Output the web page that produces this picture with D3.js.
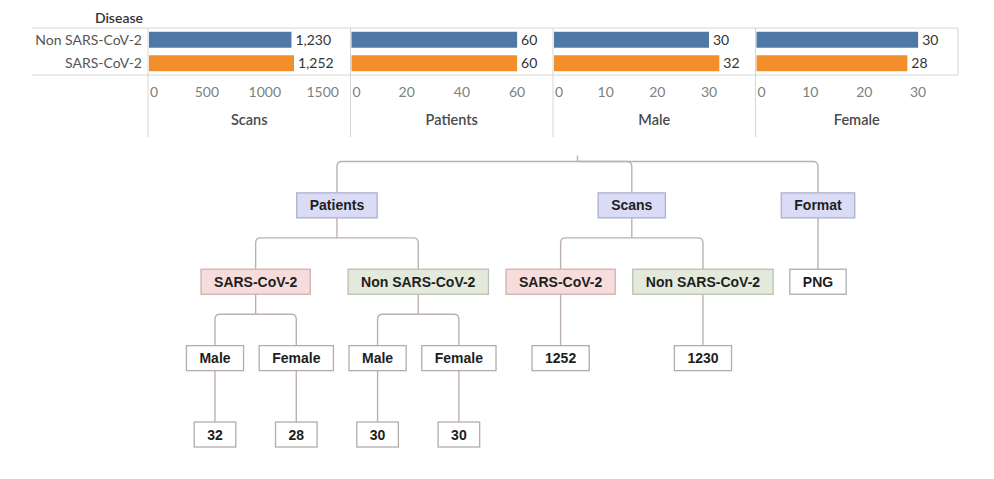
<!DOCTYPE html>
<html><head><meta charset="utf-8">
<script src="https://cdn.jsdelivr.net/npm/d3@7"></script>
<style>
html,body{margin:0;padding:0;background:#fff;}
svg{display:block;}
</style></head>
<body>
<svg id="chart" width="994" height="479"></svg>
<script>
// ---------- data ----------
const diseases = ["Non SARS-CoV-2", "SARS-CoV-2"];
const measures = ["Scans", "Patients", "Male", "Female"];
const scansValues = [1230, 1252];
const patientsValues = [60, 60];
const maleValues = [30, 32];
const femaleValues = [30, 28];
const axisMax = [1740, 73, 39, 37.4];
const tickValues = [[0, 500, 1000, 1500], [0, 20, 40, 60], [0, 10, 20, 30], [0, 10, 20, 30]];
const treeCategories = ["Patients", "Scans", "Format"];
const treeGroups = ["SARS-CoV-2", "Non SARS-CoV-2"];
const genders = ["Male", "Female"];
const formats = ["PNG"];

// ---------- styles ----------
const diseaseColors = ["#4e79a7", "#f28e2b"];
const gridColor = "#d6d6d6";
const uiFont = "Lato, 'Open Sans', sans-serif";
const treeFont = "'Liberation Sans', Arial, sans-serif";

const svg = d3.select("#chart");
const seriesByMeasure = [scansValues, patientsValues, maleValues, femaleValues];

// ---------- bar chart (top) ----------
const panel = d3.scaleBand().domain(measures).range([148, 958]);
const row = d3.scaleBand().domain(diseases).range([28, 75]).paddingInner(0.32).paddingOuter(0.16);
const color = d3.scaleOrdinal().domain(diseases).range(diseaseColors);
const barG = svg.append("g");

barG.append("text").attr("x", 143).attr("y", 18).attr("dy", "0.35em")
  .attr("text-anchor", "end").attr("font-family", uiFont).attr("font-size", 14)
  .attr("font-weight", 600).attr("fill", "#333").text("Disease");

barG.selectAll("text.rowlab").data(diseases).join("text").attr("class", "rowlab")
  .attr("x", 142).attr("y", d => row(d) + row.bandwidth() / 2).attr("dy", "0.35em")
  .attr("text-anchor", "end").attr("font-family", uiFont).attr("font-size", 14)
  .attr("fill", "#555").text(d => d);

// grid lines
const [r0, r1] = row.range();
barG.append("line").attr("x1", 32).attr("x2", 958).attr("y1", r0).attr("y2", r0).attr("stroke", gridColor);
barG.append("line").attr("x1", 32).attr("x2", 958).attr("y1", r1).attr("y2", r1).attr("stroke", gridColor);
barG.selectAll("line.sep").data(measures).join("line").attr("class", "sep")
  .attr("x1", d => panel(d)).attr("x2", d => panel(d)).attr("y1", r0).attr("y2", 137).attr("stroke", gridColor);
barG.append("line").attr("x1", 958).attr("x2", 958).attr("y1", r0).attr("y2", r1).attr("stroke", gridColor);

measures.forEach((m, i) => {
  const x0 = panel(m);
  const x = d3.scaleLinear().domain([0, axisMax[i]]).range([x0 + 1, x0 + panel.bandwidth()]);
  const vals = seriesByMeasure[i];
  const g = barG.append("g");
  g.selectAll("rect").data(diseases).join("rect")
    .attr("x", x(0)).attr("y", d => row(d))
    .attr("width", (d, j) => x(vals[j]) - x(0)).attr("height", row.bandwidth())
    .attr("fill", d => color(d));
  g.selectAll("text.val").data(diseases).join("text").attr("class", "val")
    .attr("x", (d, j) => x(vals[j]) + 4).attr("y", d => row(d) + row.bandwidth() / 2).attr("dy", "0.35em")
    .attr("font-family", uiFont).attr("font-size", 14).attr("fill", "#333")
    .text((d, j) => d3.format(",")(vals[j]));
  g.selectAll("text.tick").data(tickValues[i]).join("text").attr("class", "tick")
    .attr("x", t => t === 0 ? x(t) + 1 : x(t)).attr("y", 92).attr("dy", "0.35em")
    .attr("text-anchor", t => t === 0 ? "start" : "middle")
    .attr("font-family", uiFont).attr("font-size", 14).attr("fill", "#808080").text(t => t);
  g.append("text").attr("x", x0 + panel.bandwidth() / 2).attr("y", 120).attr("dy", "0.35em")
    .attr("text-anchor", "middle").attr("font-family", uiFont).attr("font-size", 14.5)
    .attr("font-weight", 600).attr("fill", "#4a4a4a").text(m);
});

// ---------- tree (bottom) ----------
const val = (arr, g) => arr[diseases.indexOf(g)];
const treeData = { name: "", children: [
  { name: treeCategories[0], children: treeGroups.map(g => ({ name: g,
      children: genders.map(s => ({ name: s, children: [{ name: String(val(s === genders[0] ? maleValues : femaleValues, g)) }] })) })) },
  { name: treeCategories[1], children: treeGroups.map(g => ({ name: g, children: [{ name: String(val(scansValues, g)) }] })) },
  { name: treeCategories[2], children: formats.map(f => ({ name: f })) }
]};

const root = d3.hierarchy(treeData);
const meas = svg.append("text").attr("font-family", treeFont).attr("font-weight", "bold").attr("font-size", 14);
root.each(d => { meas.text(d.data.name); d.w = d.depth ? meas.node().getComputedTextLength() + 26 : 0; });
meas.remove();
const gap = 13;
d3.tree().nodeSize([1, 1]).separation((a, b) => (a.w + b.w) / 2 + gap)(root);

const visible = root.descendants().filter(d => d.depth > 0);
const xTree = d3.scaleLinear().domain(d3.extent(visible, d => d.x)).range([215, 818]);
const yTree = d3.scaleLinear().domain([0, 4]).range([129, 434.5]);
const boxH = 25, rad = 5, drop = 20;

const gl = svg.append("g").attr("fill", "none").attr("stroke", "#bdb0b5").attr("stroke-width", 1.4);
root.descendants().forEach(p => {
  if (!p.children) return;
  const px = xTree(p.x), pBottom = yTree(p.depth) + boxH / 2, midY = pBottom + drop;
  if (p.children.length === 1) {
    const c = p.children[0];
    gl.append("path").attr("d", `M${px},${pBottom}V${yTree(c.depth) - boxH / 2}`);
    return;
  }
  if (p.depth > 0) gl.append("path").attr("d", `M${px},${pBottom}V${midY}`);
  else gl.append("path").attr("d", `M${px},${midY - 6}V${midY}`);
  p.children.forEach(c => {
    const cx = xTree(c.x), cTop = yTree(c.depth) - boxH / 2;
    const dir = Math.sign(cx - px) || 1;
    gl.append("path").attr("d", `M${px},${midY}H${cx - dir * rad}Q${cx},${midY} ${cx},${midY + rad}V${cTop}`);
  });
});

const fillOf = d => d.depth === 1 ? "#d9dbf7" : d.data.name === treeGroups[0] ? "#f6dcdb" : d.data.name === treeGroups[1] ? "#e3eadb" : "#ffffff";
const strokeOf = d => d.depth === 1 ? "#aeb0cc" : d.data.name === treeGroups[0] ? "#cdb2b2" : d.data.name === treeGroups[1] ? "#b9c0b1" : "#b3abae";

const gn = svg.append("g").selectAll("g").data(visible).join("g")
  .attr("transform", d => `translate(${xTree(d.x)},${yTree(d.depth)})`);
gn.append("rect").attr("x", d => -d.w / 2).attr("y", -boxH / 2).attr("width", d => d.w).attr("height", boxH)
  .attr("fill", fillOf).attr("stroke", strokeOf).attr("stroke-width", 1.3);
gn.append("text").attr("text-anchor", "middle").attr("dy", "0.36em")
  .attr("font-family", treeFont).attr("font-weight", "bold").attr("font-size", 14).attr("fill", "#1e1e1e")
  .text(d => d.data.name);
</script>
</body></html>
